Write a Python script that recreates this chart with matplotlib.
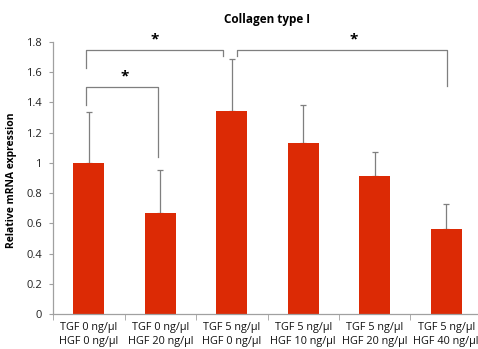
import matplotlib.pyplot as plt
import numpy as np

plt.rcParams['font.family'] = ['Open Sans', 'DejaVu Sans']

# Data
groups = ['TGF 0 ng/\u00b5l\nHGF 0 ng/\u00b5l', 'TGF 0 ng/\u00b5l\nHGF 20 ng/\u00b5l',
          'TGF 5 ng/\u00b5l\nHGF 0 ng/\u00b5l', 'TGF 5 ng/\u00b5l\nHGF 10 ng/\u00b5l',
          'TGF 5 ng/\u00b5l\nHGF 20 ng/\u00b5l', 'TGF 5 ng/\u00b5l\nHGF 40 ng/\u00b5l']
means = [1.0, 0.67, 1.345, 1.13, 0.91, 0.565]
errors = [0.335, 0.28, 0.345, 0.25, 0.16, 0.165]
yticks = [0, 0.2, 0.4, 0.6, 0.8, 1, 1.2, 1.4, 1.6, 1.8]

fig = plt.figure(figsize=(4.78, 3.49), dpi=100)
ax = fig.add_axes([53 / 478, 35 / 349, 429 / 478, 272 / 349])

x = np.arange(len(groups))
ax.bar(x, means, width=0.43, color='#dc2a05', zorder=2)
ax.errorbar(x, means, yerr=[np.zeros(len(errors)), errors], fmt='none',
            ecolor='#7f7f7f', elinewidth=0.9, capsize=2, capthick=0.9, zorder=1)

ax.set_xlim(-0.5, len(groups) - 0.5)
ax.set_ylim(0, 1.8)
ax.set_yticks(yticks)
ax.set_yticklabels([('%g' % v) for v in yticks], fontsize=8, color='#222222')
ax.set_xticks(x)
ax.set_xticklabels(groups, fontsize=7.8, color='#111111', linespacing=1.3)
ax.set_xticks(np.arange(len(groups) + 1) - 0.5, minor=True)
ax.tick_params(axis='x', which='major', length=0, pad=6)
ax.tick_params(axis='x', which='minor', length=4, color='#a0a0a0', direction='out')
ax.tick_params(axis='y', length=3, color='#a0a0a0', direction='out', pad=5)
for s in ['top', 'right']:
    ax.spines[s].set_visible(False)
for s in ['left', 'bottom']:
    ax.spines[s].set_color('#a0a0a0')
    ax.spines[s].set_linewidth(0.9)

ax.set_ylabel('Relative mRNA expression', fontsize=7.5, fontweight='bold')
ax.yaxis.set_label_coords(-36 / 429, 0.49)
ax.set_title('Collagen type I', fontsize=8.5, fontweight='bold', pad=14)

# significance brackets
bc = '#7f7f7f'
def bracket(x0, x1, y0, y1, ytop, label, xs):
    ax.plot([x0, x0, x1, x1], [y0, ytop, ytop, y1], color=bc, lw=0.9, clip_on=False)
    ax.text(xs, ytop + 0.02, label, ha='center', va='bottom', fontsize=11,
            fontweight='bold', clip_on=False)

bracket(-0.04, 0.97, 1.385, 1.04, 1.503, '*', 0.5)
bracket(-0.04, 1.88, 1.63, 1.71, 1.748, '*', 0.92)
bracket(2.07, 5.01, 1.71, 1.51, 1.748, '*', 3.7)

fig.savefig('out.png', dpi=100)
